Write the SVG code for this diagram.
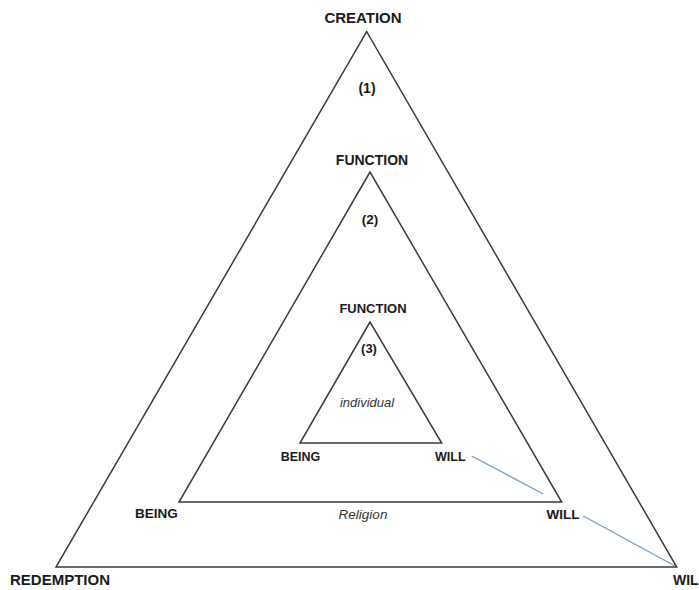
<svg xmlns="http://www.w3.org/2000/svg" width="699" height="590" viewBox="0 0 699 590">
<style>
.tri{fill:none;stroke:#3a3a3a;stroke-width:1.5;stroke-linejoin:miter}
.con{fill:none;stroke:#6f9cc4;stroke-width:1.3}
.lb{font-family:"Liberation Sans",Arial,sans-serif;font-weight:bold;fill:#1a1a1a}
.it{font-family:"Liberation Sans",Arial,sans-serif;font-style:italic;fill:#333}
</style>
<rect width="699" height="590" fill="#ffffff"/>
<g id="outer-triangle">
<polygon class="tri" points="366.7,31.7 56,567 676.7,567"/>
<text class="lb" x="363" y="23" font-size="15" text-anchor="middle">CREATION</text>
<text class="lb" x="367" y="93" font-size="14" text-anchor="middle">(1)</text>
<text class="lb" x="10" y="585" font-size="15">REDEMPTION</text>
<text class="lb" x="673" y="585" font-size="14">WIL</text>
</g>
<g id="middle-triangle">
<polygon class="tri" points="370,172 179,502 561.7,502"/>
<text class="lb" x="372" y="165" font-size="14" text-anchor="middle">FUNCTION</text>
<text class="lb" x="370" y="224" font-size="13.5" text-anchor="middle">(2)</text>
<text class="lb" x="156.5" y="518" font-size="13.5" text-anchor="middle">BEING</text>
<text class="it" x="363" y="519" font-size="13.5" text-anchor="middle">Religion</text>
<text class="lb" x="546.5" y="519" font-size="13.5">WILL</text>
</g>
<g id="inner-triangle">
<polygon class="tri" points="370,322 300,443 441.7,443"/>
<text class="lb" x="373" y="312.5" font-size="13" text-anchor="middle">FUNCTION</text>
<text class="lb" x="369" y="353" font-size="13" text-anchor="middle">(3)</text>
<text class="it" x="367" y="407" font-size="13" text-anchor="middle">individual</text>
<text class="lb" x="300.5" y="460.5" font-size="12.5" text-anchor="middle">BEING</text>
<text class="lb" x="435" y="460.5" font-size="12.5">WILL</text>
</g>
<g id="connectors">
<line class="con" x1="471.7" y1="456" x2="543.3" y2="494"/>
<line class="con" x1="583.3" y1="516" x2="675" y2="566"/>
</g>
</svg>
